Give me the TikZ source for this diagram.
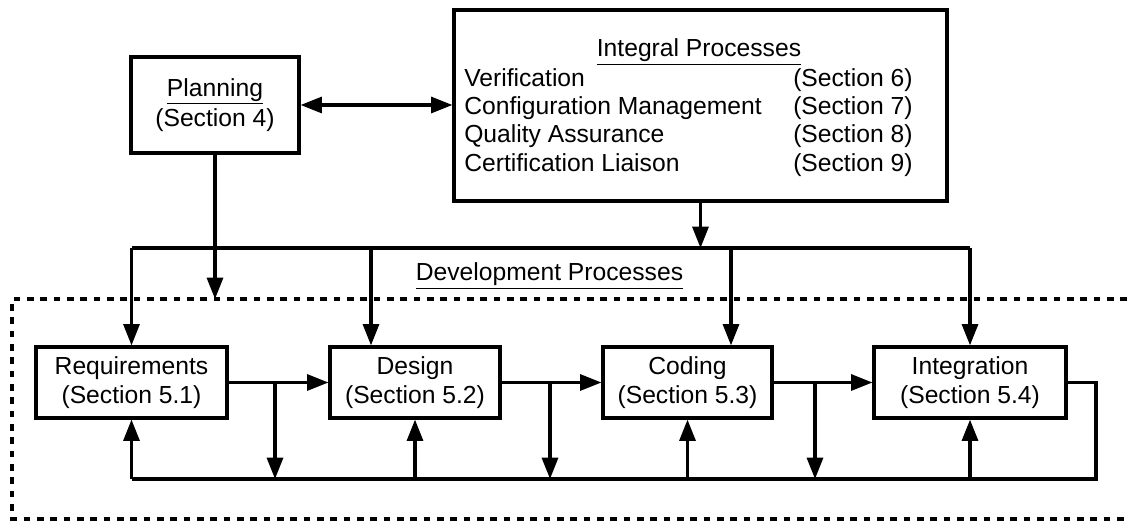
\documentclass[tikz,border=0pt]{standalone}
\usepackage{fontspec}
\setmainfont{Liberation Sans}
\usetikzlibrary{arrows.meta}
\begin{document}
\begin{tikzpicture}[x=0.75pt,y=-0.75pt,
  every node/.style={font=\fontsize{18.5}{21.5}\selectfont},
  conn/.style={line width=2.4pt},
  arr/.style={conn,-{Triangle[length=16pt,width=12pt]}},
  box/.style={draw,line width=2.4pt,align=center,inner sep=0pt},
  txt/.style={inner sep=0pt}]
\useasboundingbox (0,0) rectangle (1127,523);
% boxes
\node[box,minimum width=168*0.75pt,minimum height=96*0.75pt] (plan) at (215,105) {\underline{Planning}\\[1pt](Section 4)};
\node[box,minimum width=493*0.75pt,minimum height=191*0.75pt] (integ) at (700.5,105.5) {};
\node[txt,anchor=base] (ititle) at (699,57) {\underline{Integral Processes}};
\node[txt,anchor=base west] (v1) at (464,87) {Verification};
\node[txt,anchor=base west] (v2) at (464,115) {Configuration Management};
\node[txt,anchor=base west] (v3) at (464,143) {Quality Assurance};
\node[txt,anchor=base west] (v4) at (464,172) {Certification Liaison};
\node[txt,anchor=base west] (s6) at (793,87) {(Section 6)};
\node[txt,anchor=base west] (s7) at (793,115) {(Section 7)};
\node[txt,anchor=base west] (s8) at (793,143) {(Section 8)};
\node[txt,anchor=base west] (s9) at (793,172) {(Section 9)};
\node[txt,anchor=base] (dev) at (549.5,281) {\underline{Development Processes}};
\node[box,minimum width=191*0.75pt,minimum height=71*0.75pt] (req) at (131.5,382.5) {Requirements\\(Section 5.1)};
\node[box,minimum width=170*0.75pt,minimum height=71*0.75pt] (des) at (415,382.5) {Design\\(Section 5.2)};
\node[box,minimum width=169*0.75pt,minimum height=71*0.75pt] (cod) at (687.5,382.5) {Coding\\(Section 5.3)};
\node[box,minimum width=192*0.75pt,minimum height=71*0.75pt] (int) at (970,382.5) {Integration\\(Section 5.4)};
% dashed frame
\draw[line width=2.8pt,dash pattern=on 5pt off 5pt] (1127,299) -- (12,299) -- (12,519) -- (1127,519);
% coordinates
\coordinate (busL) at (131.5,248);
\coordinate (busR) at (970,248);
\coordinate (busD) at (371,248);
\coordinate (busC) at (731,248);
\coordinate (planEnd) at (215,299);
\coordinate (bL) at (131.5,479);
\coordinate (bR) at (1096,479);
\coordinate (loop) at (1096,382.5);
\coordinate (br1) at (275,382.5);
\coordinate (br2) at (550,382.5);
\coordinate (br3) at (815,382.5);
% top connectors
\draw[conn,{Triangle[length=16pt,width=12pt]}-{Triangle[length=16pt,width=12pt]}] (plan.east) -- (plan.east -| integ.west);
\draw[arr] (plan.south) -- (planEnd);
\draw[arr] (integ.south) -- (integ.south |- busL);
\draw[conn] (busL) -- (busR);
\draw[arr] (busL) -- (req.north);
\draw[arr] (busD) -- (busD |- des.north);
\draw[arr] (busC) -- (busC |- cod.north);
\draw[arr] (busR) -- (int.north);
% forward
\draw[arr] (req.east) -- (des.west);
\draw[arr] (des.east) -- (cod.west);
\draw[arr] (cod.east) -- (int.west);
% feedback
\draw[conn] (int.east) -- (loop) -- (bR) -- (bL);
\draw[arr] (bL) -- (req.south);
\draw[arr] (des.south |- bL) -- (des.south);
\draw[arr] (cod.south |- bL) -- (cod.south);
\draw[arr] (int.south |- bL) -- (int.south);
\draw[arr] (br1) -- (br1 |- bL);
\draw[arr] (br2) -- (br2 |- bL);
\draw[arr] (br3) -- (br3 |- bL);
\end{tikzpicture}
\end{document}
